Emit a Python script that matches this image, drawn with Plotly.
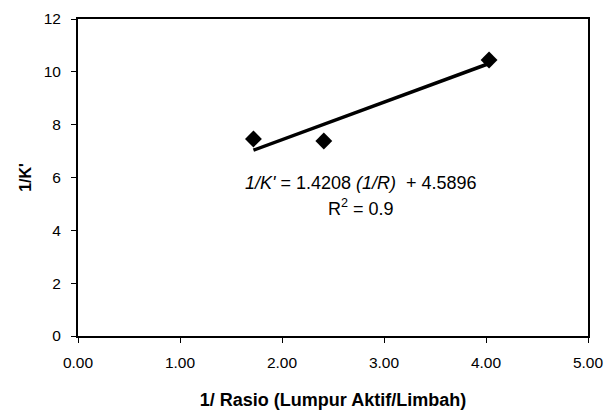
import plotly.graph_objects as go

x_vals = [1.72, 2.41, 4.03]
y_vals = [7.46, 7.38, 10.45]
slope = 1.4208
intercept = 4.5896
r2 = 0.9
x_ticks = [0, 1, 2, 3, 4, 5]
y_ticks = [0, 2, 4, 6, 8, 10, 12]

x_fit = [min(x_vals), max(x_vals)]
y_fit = [slope * v + intercept for v in x_fit]

FONT = "Liberation Sans, Arial, sans-serif"

fig = go.Figure()
fig.add_trace(go.Scatter(x=x_fit, y=y_fit, mode="lines",
                         line=dict(color="black", width=3.5), showlegend=False))
fig.add_trace(go.Scatter(x=x_vals, y=y_vals, mode="markers",
                         marker=dict(symbol="diamond", size=13, color="black"),
                         showlegend=False))

fig.add_annotation(x=2.77, y=5.8, xref="x", yref="y", showarrow=False,
                   text=f"<i>1/K'</i> = {slope} <i>(1/R)</i>  + {intercept}",
                   font=dict(family=FONT, size=18, color="black"))
fig.add_annotation(x=2.77, y=4.85, xref="x", yref="y", showarrow=False,
                   text=f"R<sup>2</sup> = {r2}",
                   font=dict(family=FONT, size=18, color="black"))

fig.update_layout(
    width=609, height=410,
    margin=dict(l=78, r=21, t=19, b=74),
    plot_bgcolor="white", paper_bgcolor="white",
    font=dict(family=FONT, size=15.5, color="black"),
    xaxis=dict(range=[0, 5], tickvals=x_ticks, tickformat=".2f",
               showgrid=False, zeroline=False, showline=True, mirror=True,
               linecolor="black", linewidth=2, ticks="outside", ticklen=5,
               tickcolor="black", automargin=False, ticklabelstandoff=6,
               title=dict(text="<b>1/ Rasio (Lumpur Aktif/Limbah)</b>",
                          font=dict(size=18), standoff=26)),
    yaxis=dict(range=[0, 12], tickvals=y_ticks,
               showgrid=False, zeroline=False, showline=True, mirror=True,
               linecolor="black", linewidth=2, ticks="outside", ticklen=5,
               tickcolor="black", automargin=False, ticklabelstandoff=7,
               title=dict(text="<b>1/K'</b>", font=dict(size=16), standoff=8)),
)

fig.write_html("out.html",
               config={"displayModeBar": False},
               post_script="document.body.style.margin='0';"
                           "document.documentElement.style.overflow='hidden';")
